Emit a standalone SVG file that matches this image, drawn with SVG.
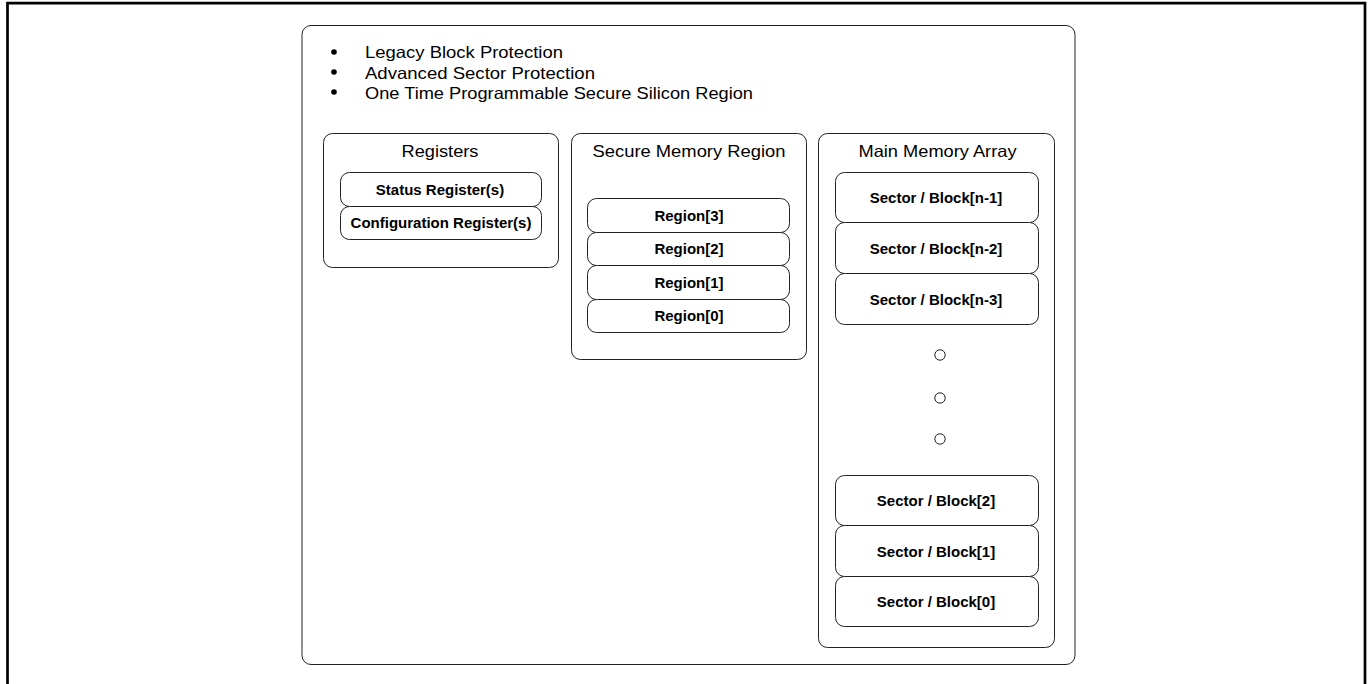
<svg xmlns="http://www.w3.org/2000/svg" width="1369" height="684" viewBox="0 0 1369 684">
<style>
.frame{fill:none;stroke:#000;stroke-width:2.7}
.box{fill:#fff;stroke:#222;stroke-width:1}
.title{font-family:"Liberation Sans",Arial,sans-serif;font-size:16.5px;fill:#000;text-anchor:middle}
.lbl{font-family:"Liberation Sans",Arial,sans-serif;font-size:15px;font-weight:bold;fill:#000;text-anchor:middle}
.bul{font-family:"Liberation Sans",Arial,sans-serif;font-size:16.5px;fill:#000}
.dot{fill:#fff;stroke:#222;stroke-width:1}
</style>
<rect width="1369" height="684" fill="#fff"/>
<path class="frame" d="M7.5,684 V3.2 H1365 V684"/>
<g id="container">
<rect class="box" x="302" y="25.5" width="773" height="639" rx="9"/>
<g id="bullets">
<circle cx="334" cy="52" r="2.8" fill="#000"/>
<circle cx="334" cy="72" r="2.8" fill="#000"/>
<circle cx="334" cy="92" r="2.8" fill="#000"/>
<text class="bul" x="365" y="58" textLength="198" lengthAdjust="spacingAndGlyphs">Legacy Block Protection</text>
<text class="bul" x="365" y="78.5" textLength="230" lengthAdjust="spacingAndGlyphs">Advanced Sector Protection</text>
<text class="bul" x="365" y="99" textLength="388" lengthAdjust="spacingAndGlyphs">One Time Programmable Secure Silicon Region</text>
</g>
</g>
<g id="registers">
<rect class="box" x="323.5" y="133.5" width="235" height="134" rx="9"/>
<text class="title" x="440" y="157" textLength="77" lengthAdjust="spacingAndGlyphs">Registers</text>
</g>
<g id="status-register">
<rect class="box" x="340.5" y="172.5" width="201" height="34" rx="9"/>
<text class="lbl" x="440" y="194.5">Status Register(s)</text>
</g>
<g id="config-register">
<rect class="box" x="340.5" y="206.5" width="201" height="33" rx="9"/>
<text class="lbl" x="441" y="228">Configuration Register(s)</text>
</g>
<g id="secure-memory">
<rect class="box" x="571.5" y="133.5" width="235" height="226" rx="9"/>
<text class="title" x="689" y="157" textLength="193" lengthAdjust="spacingAndGlyphs">Secure Memory Region</text>
</g>
<g id="region3">
<rect class="box" x="587.5" y="198.5" width="202" height="34" rx="9"/>
<text class="lbl" x="689" y="220.5">Region[3]</text>
</g>
<g id="region2">
<rect class="box" x="587.5" y="232.5" width="202" height="33" rx="9"/>
<text class="lbl" x="689" y="254">Region[2]</text>
</g>
<g id="region1">
<rect class="box" x="587.5" y="265.5" width="202" height="34" rx="9"/>
<text class="lbl" x="689" y="287.5">Region[1]</text>
</g>
<g id="region0">
<rect class="box" x="587.5" y="299.5" width="202" height="33" rx="9"/>
<text class="lbl" x="689" y="321">Region[0]</text>
</g>
<g id="main-memory">
<rect class="box" x="818.5" y="133.5" width="236" height="514" rx="9"/>
<text class="title" x="937.5" y="157" textLength="158" lengthAdjust="spacingAndGlyphs">Main Memory Array</text>
</g>
<g id="sector-n1">
<rect class="box" x="835.5" y="172.5" width="203" height="50" rx="9"/>
<text class="lbl" x="936" y="203">Sector / Block[n-1]</text>
</g>
<g id="sector-n2">
<rect class="box" x="835.5" y="222.5" width="203" height="51" rx="9"/>
<text class="lbl" x="936" y="253.5">Sector / Block[n-2]</text>
</g>
<g id="sector-n3">
<rect class="box" x="835.5" y="273.5" width="203" height="51" rx="9"/>
<text class="lbl" x="936" y="304.5">Sector / Block[n-3]</text>
</g>
<g id="ellipsis">
<circle class="dot" cx="940" cy="355" r="5.2"/>
<circle class="dot" cx="940" cy="398" r="5.2"/>
<circle class="dot" cx="940" cy="439" r="5.2"/>
</g>
<g id="sector-2">
<rect class="box" x="835.5" y="475.5" width="203" height="50" rx="9"/>
<text class="lbl" x="936" y="506">Sector / Block[2]</text>
</g>
<g id="sector-1">
<rect class="box" x="835.5" y="525.5" width="203" height="51" rx="9"/>
<text class="lbl" x="936" y="556.5">Sector / Block[1]</text>
</g>
<g id="sector-0">
<rect class="box" x="835.5" y="576.5" width="203" height="50" rx="9"/>
<text class="lbl" x="936" y="607">Sector / Block[0]</text>
</g>
<g id="connectors"/>
</svg>
